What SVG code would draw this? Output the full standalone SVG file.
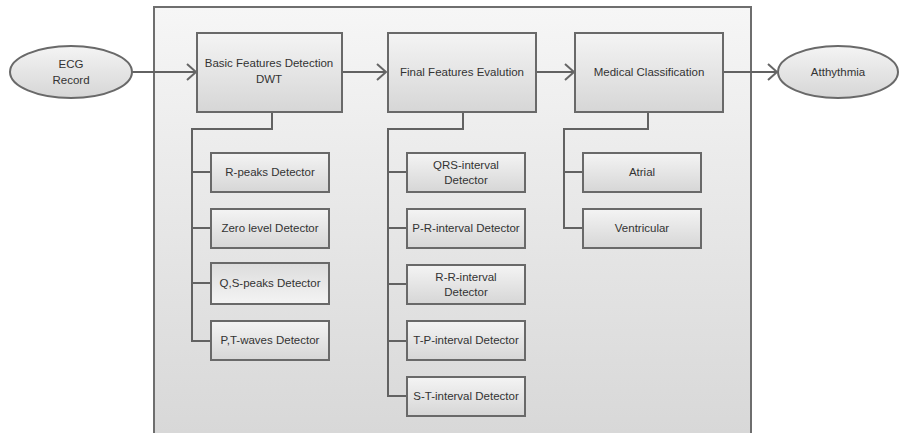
<svg xmlns="http://www.w3.org/2000/svg" width="899" height="433" viewBox="0 0 899 433">
<defs>
<linearGradient id="gBox" x1="0" y1="0" x2="0" y2="1">
<stop offset="0" stop-color="#f4f4f4"/>
<stop offset="1" stop-color="#d6d6d6"/>
</linearGradient>
<linearGradient id="gInv" x1="0" y1="0" x2="0" y2="1">
<stop offset="0" stop-color="#dcdcdc"/>
<stop offset="1" stop-color="#f4f4f4"/>
</linearGradient>
<linearGradient id="gCont" x1="0" y1="0" x2="0" y2="1">
<stop offset="0" stop-color="#f6f6f6"/>
<stop offset="1" stop-color="#d7d7d7"/>
</linearGradient>
<marker id="arr" markerWidth="12" markerHeight="18" refX="10" refY="9" orient="auto" markerUnits="userSpaceOnUse">
<path d="M1,1 L10,9 L1,17" fill="none" stroke="#666" stroke-width="2"/>
</marker>
</defs>
<style>
.box{fill:url(#gBox);stroke:#696969;stroke-width:2}
.inv{fill:url(#gInv);stroke:#696969;stroke-width:2}
.ell{fill:url(#gBox);stroke:#696969;stroke-width:2}
.ln{fill:none;stroke:#626262;stroke-width:2}
text{font-family:"Liberation Sans",Arial,sans-serif;font-size:11.5px;fill:#333;text-anchor:middle}
</style>
<g id="container"><rect x="154" y="7" width="597" height="440" fill="url(#gCont)" stroke="#6e6e6e" stroke-width="2"/></g>
<g id="connectors">
<line class="ln" x1="132" y1="72" x2="196" y2="72" marker-end="url(#arr)"/>
<line class="ln" x1="342" y1="72" x2="386" y2="72" marker-end="url(#arr)"/>
<line class="ln" x1="537" y1="72" x2="574" y2="72" marker-end="url(#arr)"/>
<line class="ln" x1="723" y1="72" x2="777" y2="72" marker-end="url(#arr)"/>
<path class="ln" d="M272,112 V129 H192 V341 H211 M192,172 H211 M192,228 H211 M192,283 H211"/>
<path class="ln" d="M463,112 V129 H388 V396 H407 M388,172 H407 M388,228 H407 M388,284 H407 M388,341 H407"/>
<path class="ln" d="M648,112 V129 H564 V228 H583 M564,172 H583"/>
</g>
<g id="ecg"><ellipse class="ell" cx="71" cy="72" rx="61" ry="26"/><text x="71" y="68">ECG</text><text x="71" y="84">Record</text></g>
<g id="arrhythmia"><ellipse class="ell" cx="838" cy="72" rx="60" ry="26"/><text x="838" y="76">Atthythmia</text></g>
<g id="basic"><rect class="box" x="197" y="33" width="145" height="79"/><text x="269" y="67">Basic Features Detection</text><text x="269" y="83">DWT</text></g>
<g id="final"><rect class="box" x="388" y="33" width="148" height="79"/><text x="462" y="76">Final Features Evalution</text></g>
<g id="medical"><rect class="box" x="575" y="33" width="148" height="79"/><text x="649" y="76">Medical Classification</text></g>
<g id="rpeaks"><rect class="box" x="211" y="153" width="118" height="39"/><text x="270" y="176">R-peaks Detector</text></g>
<g id="zero"><rect class="box" x="211" y="209" width="118" height="39"/><text x="270" y="232">Zero level Detector</text></g>
<g id="qspeaks"><rect class="inv" x="211" y="263" width="118" height="41"/><text x="270" y="287">Q,S-peaks Detector</text></g>
<g id="ptwaves"><rect class="box" x="211" y="321" width="118" height="39"/><text x="270" y="344">P,T-waves Detector</text></g>
<g id="qrs"><rect class="box" x="407" y="153" width="118" height="39"/><text x="466" y="169">QRS-interval</text><text x="466" y="184">Detector</text></g>
<g id="pr"><rect class="box" x="407" y="209" width="118" height="39"/><text x="466" y="232">P-R-interval Detector</text></g>
<g id="rr"><rect class="box" x="407" y="265" width="118" height="39"/><text x="466" y="281">R-R-interval</text><text x="466" y="296">Detector</text></g>
<g id="tp"><rect class="box" x="407" y="321" width="118" height="39"/><text x="466" y="344">T-P-interval Detector</text></g>
<g id="st"><rect class="box" x="407" y="377" width="118" height="39"/><text x="466" y="400">S-T-interval Detector</text></g>
<g id="atrial"><rect class="box" x="583" y="153" width="118" height="39"/><text x="642" y="176">Atrial</text></g>
<g id="ventricular"><rect class="box" x="583" y="209" width="118" height="39"/><text x="642" y="232">Ventricular</text></g>
</svg>
